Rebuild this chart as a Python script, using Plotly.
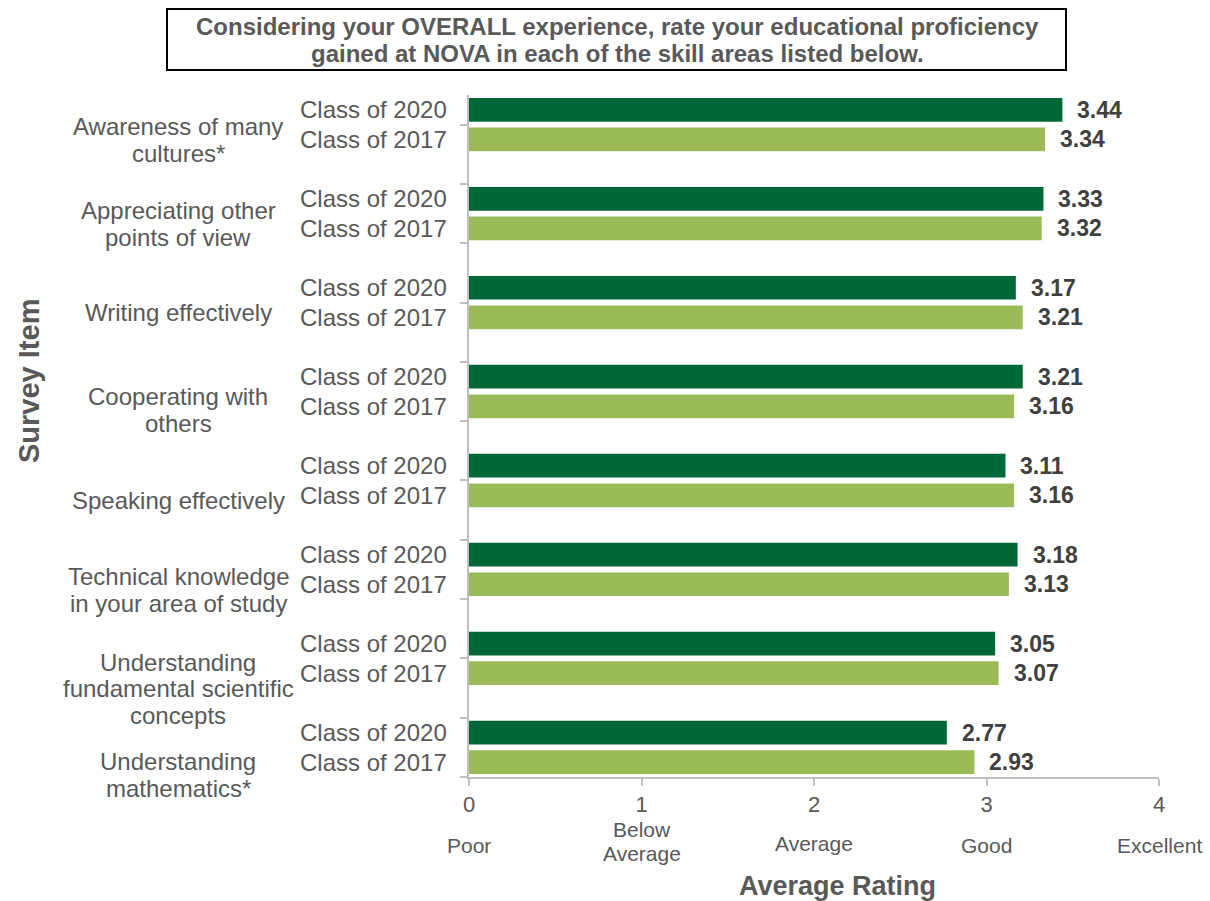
import plotly.graph_objects as go

# ---- data ----
skills = [
    "Awareness of many<br>cultures*",
    "Appreciating other<br>points of view",
    "Writing effectively",
    "Cooperating with<br>others",
    "Speaking effectively",
    "Technical knowledge<br>in your area of study",
    "Understanding<br>fundamental scientific<br>concepts",
    "Understanding<br>mathematics*",
]
class_2020 = [3.44, 3.33, 3.17, 3.21, 3.11, 3.18, 3.05, 2.77]
class_2017 = [3.34, 3.32, 3.21, 3.16, 3.16, 3.13, 3.07, 2.93]
series_names = ["Class of 2020", "Class of 2017"]
x_ticks = [0, 1, 2, 3, 4]
rating_words = ["Poor", "Below<br>Average", "Average", "Good", "Excellent"]

# ---- layout helpers ----
FONT = "Liberation Sans, Arial, sans-serif"
GRAY = "#595959"
DARK = "#006837"
LIGHT = "#9bbb59"
AXIS = "#bfbfbf"

L, R, T, B = 469, 51, 95, 124
W, H = 1210, 901
PW, PH = W - L - R, H - T - B


def px_x(p):
    return (p - L) / PW


def px_y(p):
    return (H - B - p) / PH


n = len(skills)
pos_2020 = [3 * i for i in range(n)]
pos_2017 = [3 * i + 1 for i in range(n)]
# label vertical offsets (in rows) relative to the 2020 row of each group
label_offsets = [1.02, 0.85, 0.85, 1.12, 1.16, 1.2, 1.53, 1.43]

fig = go.Figure()
fig.add_trace(go.Bar(x=class_2020, y=pos_2020, orientation="h", width=0.8,
                     marker=dict(color=DARK, line=dict(width=0)),
                     name=series_names[0], hoverinfo="x"))
fig.add_trace(go.Bar(x=class_2017, y=pos_2017, orientation="h", width=0.8,
                     marker=dict(color=LIGHT, line=dict(width=0)),
                     name=series_names[1], hoverinfo="x"))

ann = []


def multiline(text, spacing, **kw):
    lines = text.split("<br>")
    m = len(lines)
    base_shift = kw.pop("yshift", 0)
    for k, line in enumerate(lines):
        ann.append(dict(text=line, showarrow=False, yanchor="middle",
                        yshift=base_shift - (k - (m - 1) / 2) * spacing, **kw))


for i in range(n):
    for val, pos, nm in ((class_2020[i], pos_2020[i], series_names[0]),
                         (class_2017[i], pos_2017[i], series_names[1])):
        ann.append(dict(x=val, y=pos, xref="x", yref="y", text=f"{val:.2f}",
                        showarrow=False, xanchor="left", yanchor="middle",
                        xshift=13, font=dict(family=FONT, size=23, color="#404040",
                                             weight="bold")))
        ann.append(dict(x=0, y=pos, xref="x", yref="y", text=nm,
                        showarrow=False, xanchor="right", yanchor="middle",
                        xshift=-20, font=dict(family=FONT, size=24, color=GRAY)))
    multiline(skills[i], 26.5, x=px_x(178), y=pos_2020[i] + label_offsets[i],
              xref="paper", yref="y", xanchor="center",
              font=dict(family=FONT, size=24, color=GRAY))

word_y = [846, 841, 844, 846, 846]
for xv, w, wy in zip(x_ticks, rating_words, word_y):
    multiline(w, 24, x=xv, y=px_y(wy), xref="x", yref="paper", xanchor="center",
              font=dict(family=FONT, size=21, color=GRAY))

ann.append(dict(x=px_x(837), y=px_y(886), xref="paper", yref="paper",
                text="<b>Average Rating</b>", showarrow=False,
                xanchor="center", yanchor="middle",
                font=dict(family=FONT, size=27, color=GRAY)))
ann.append(dict(x=px_x(29), y=px_y(381), xref="paper", yref="paper",
                text="<b>Survey Item</b>", showarrow=False, textangle=-90,
                xanchor="center", yanchor="middle",
                font=dict(family=FONT, size=29, color=GRAY)))
multiline("<b>Considering your OVERALL experience, rate your educational proficiency</b><br>"
          "<b>gained at NOVA in each of the skill areas listed below.</b>", 27,
          x=px_x(617), y=px_y(40), xref="paper", yref="paper", xanchor="center",
          font=dict(family=FONT, size=24, color=GRAY))

shapes = [dict(type="rect", xref="paper", yref="paper",
               x0=px_x(167), x1=px_x(1066), y0=px_y(70), y1=px_y(9),
               line=dict(color="black", width=2), fillcolor="rgba(0,0,0,0)")]

fig.update_layout(
    width=W, height=H,
    margin=dict(l=L, r=R, t=T, b=B, pad=0),
    paper_bgcolor="white", plot_bgcolor="white",
    showlegend=False,
    barmode="overlay",
    annotations=ann, shapes=shapes,
    font=dict(family=FONT, color=GRAY),
)
fig.update_xaxes(range=[0, 4], tickvals=x_ticks, ticks="outside", ticklen=7,
                 tickcolor=AXIS, tickwidth=1.5, showline=True, linecolor=AXIS,
                 linewidth=1.5, showgrid=False, zeroline=False,
                 tickfont=dict(family=FONT, size=22, color=GRAY))
fig.update_yaxes(range=[22.5, -0.5], tickvals=[0.5 + 2 * k for k in range(12)],
                 ticks="outside", ticklen=7, tickcolor=AXIS, tickwidth=1.5,
                 showticklabels=False, showline=True, linecolor=AXIS, linewidth=1.5,
                 showgrid=False, zeroline=False)

fig.write_html("out.html", config={"displayModeBar": False},
               post_script="document.body.style.margin='0';document.body.style.overflow='hidden';")
